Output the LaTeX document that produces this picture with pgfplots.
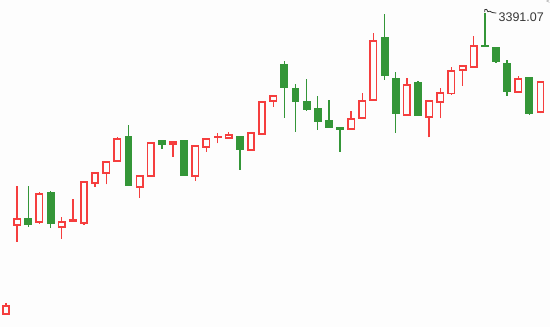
\documentclass[border=0pt]{standalone}
\usepackage{fontspec}
\setmainfont{Liberation Sans}
\usepackage{pgfplots}
\usepackage{pgfplotstable}
\pgfplotsset{compat=1.18}
\definecolor{upred}{RGB}{245,62,62}
\definecolor{downgreen}{RGB}{52,150,56}
\definecolor{bg}{RGB}{253,253,253}
\definecolor{txt}{RGB}{55,55,55}

% x: candle index; o h l c: open high low close
\pgfplotstableread{
x o h l c
0 12.7 23.7 12.7 20.7
1 101.7 141 85.3 107.7
3 104.7 135 103.3 133
5 99.7 110 88.3 104.7
6 105.3 128 105.3 107
7 103.7 145 102.3 145
8 144 155.3 140.3 153.7
9 154 164.7 142.7 164.7
10 165.7 190 165.7 187.7
12 139.7 150.7 129.3 150.7
13 150.7 183.7 150.7 183.7
15 182.7 186 170.3 185
17 150.7 180.7 146 180.7
18 179.7 187.7 175.3 187.7
19 189.8 194 183.7 190.6
20 188.7 195 188.7 191.7
22 176.7 193.7 176.7 193.7
23 192.7 225 192.7 225
24 225.7 231 220.3 231
31 197.7 216 197.7 208
32 208.7 234 208.7 226
33 226.7 294 226.7 285.7
36 211.7 249 211.7 241.7
38 209.7 226 189.7 226
39 224.7 238.7 208.7 233.7
40 233.3 260 232.3 256
41 256.7 261 241.3 261
42 259.7 291.3 259.7 281
46 234.7 250.7 234.7 248
48 214.7 245 213.7 245
}\upcandles

\pgfplotstableread{
x o h l c
2 108 141 100.3 102.7
4 134 136 99.3 103.3
11 190 202 141.3 141.3
14 186 186 178.3 182.3
16 186 187 151.3 151.3
21 190 190 157.3 178
25 262 266 209.3 239.7
26 238 243.3 195.3 225.3
27 225 248 216.3 217.3
28 218 231 197.3 205.3
29 206.3 227 199.3 199.3
30 199 199 175.3 197.7
34 289 313 247.3 251.3
35 248 255 194.3 213.3
37 244 246.3 211.3 211.3
43 281.3 314.3 280.3 280.3
44 278.7 280 264.3 265.3
45 263 267 231.3 235.3
47 249 249 212.3 213.3
}\downcandles

\pgfplotsset{candle/.style={width=550pt,height=327pt,scale only axis,hide axis,
  xmin=-0.539,xmax=48.855,ymin=0,ymax=327,clip=false}}

\begin{document}
\begin{tikzpicture}
\fill[bg] (0,0) rectangle (550pt,327pt);
% wicks
\begin{axis}[candle]
\addplot[draw=none, mark=none,
  error bars/.cd, y dir=plus, y explicit, error mark=none,
  error bar style={draw=upred, line width=1.4pt}]
  table[x=x, y=l, y error expr=\thisrow{h}-\thisrow{l}] {\upcandles};
\addplot[draw=none, mark=none,
  error bars/.cd, y dir=plus, y explicit, error mark=none,
  error bar style={draw=downgreen, line width=1.4pt}]
  table[x=x, y=l, y error expr=\thisrow{h}-\thisrow{l}] {\downcandles};
\end{axis}
% rising bodies (hollow)
\begin{axis}[candle, ybar stacked, bar width=0.57]
\addplot[draw=none, fill=none] table[x=x, y=o] {\upcandles};
\addplot[draw=upred, fill=bg, line width=1.6pt]
  table[x=x, y expr=\thisrow{c}-\thisrow{o}] {\upcandles};
\end{axis}
% falling bodies (filled)
\begin{axis}[candle, ybar stacked, bar width=0.57]
\addplot[draw=none, fill=none] table[x=x, y=c] {\downcandles};
\addplot[draw=downgreen, fill=downgreen, line width=1.6pt]
  table[x=x, y expr=\thisrow{o}-\thisrow{c}] {\downcandles};
\end{axis}
% annotation of the highest price
\begin{axis}[candle]
\draw[txt, line width=0.8pt] (axis cs:43,314.3) ++(0pt,0.5pt) -- ++(0pt,2.5pt)
  -- ++(1.5pt,0.3pt) .. controls ++(0.8pt,0pt) and ++(-0.5pt,1pt) .. ++(1.5pt,-2.3pt)
  .. controls ++(1.5pt,0.8pt) and ++(-2pt,1.5pt) .. ++(4.5pt,-0.8pt)
  .. controls ++(1.5pt,-1pt) and ++(-2pt,0pt) .. ++(4pt,-0.6pt);
\node[anchor=west, inner sep=0pt, text=txt, font=\fontsize{12.5}{14}\selectfont]
  at ([xshift=13.6pt,yshift=-4.2pt]axis cs:43,314.3) {3391.07};
\node[anchor=north east, inner sep=0pt, text=gray, font=\fontsize{6}{7}\selectfont]
  at (550pt,327pt) {\textless};
\end{axis}
\end{tikzpicture}
\end{document}
